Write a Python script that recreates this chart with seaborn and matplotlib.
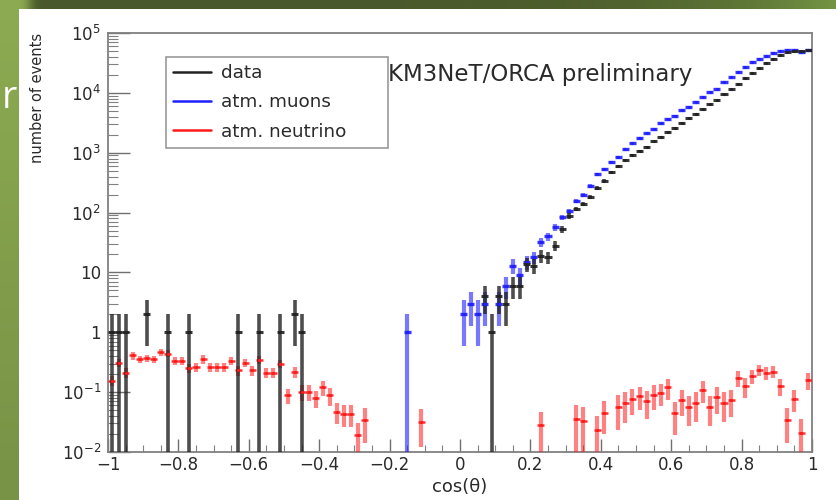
import numpy as np
import pandas as pd
import matplotlib
matplotlib.use("Agg")
import matplotlib.pyplot as plt
import seaborn as sns
from matplotlib.patches import Rectangle
from matplotlib.lines import Line2D
from matplotlib.ticker import FixedLocator, FixedFormatter, MultipleLocator, LogLocator, NullFormatter

# ---------------- data (100 bins in cos(theta), -1 .. 1) ----------------
x_range = (-1.0, 1.0)
n_bins = 100

data_counts = [
    1, 1, 1, 0, 0, 2, 0, 0, 1, 0,
    0, 1, 0, 0, 0, 0, 0, 0, 1, 0,
    0, 1, 0, 0, 1, 0, 2, 1, 0, 0,
    0, 0, 0, 0, 0, 0, 0, 0, 0, 0,
    0, 0, 0, 0, 0, 0, 0, 0, 0, 0,
    0, 0, 0, 4, 1, 4, 3, 6, 6, 14,
    13, 19, 18, 28, 53, 89, 115, 140, 180, 257,
    340, 468, 590, 760, 910, 1070, 1260, 1540, 1850, 2260,
    2630, 3180, 3780, 4500, 5300, 6400, 7600, 9400, 11500, 14000,
    17500, 21500, 26000, 31000, 37000, 43000, 48000, 51000, 50000, 53000,
]

muon_counts = [
    0, 0, 0, 0, 0, 0, 0, 0, 0, 0,
    0, 0, 0, 0, 0, 0, 0, 0, 0, 0,
    0, 0, 0, 0, 0, 0, 0, 0, 0, 0,
    0, 0, 0, 0, 0, 0, 0, 0, 0, 0,
    0, 0, 1, 0, 0, 0, 0, 0, 0, 0,
    2, 3, 2, 3, 0, 3, 6, 13, 9, 15,
    18, 32, 40, 57, 83, 105, 155, 200, 280, 440,
    530, 690, 860, 1140, 1430, 1760, 2130, 2480, 3090, 3640,
    4140, 5100, 5900, 7160, 8500, 10300, 11700, 15000, 18300, 22100,
    26800, 32500, 36900, 41800, 46400, 50700, 52600, 52600, 49000, 52600,
]

nu_rate = [
    0.155, 0.31, 0.21, 0.41, 0.355, 0.365, 0.355, 0.46, 0.44, 0.33,
    0.33, 0.25, 0.26, 0.355, 0.264, 0.26, 0.26, 0.33, 0.23, 0.31,
    0.23, 0.35, 0.21, 0.21, 0.30, 0.089, 0.22, 0.10, 0.10, 0.079,
    0.12, 0.089, 0.047, 0.043, 0.043, 0.019, 0.034, 0, 0, 0,
    0, 0, 0, 0, 0.032, 0, 0, 0, 0, 0,
    0, 0, 0, 0, 0, 0, 0, 0, 0, 0,
    0, 0.028, 0, 0, 0, 0, 0.035, 0.033, 0, 0.023,
    0.045, 0, 0.056, 0.065, 0.076, 0.085, 0.070, 0.091, 0.098, 0.12,
    0.044, 0.075, 0.057, 0.067, 0.11, 0.057, 0.083, 0.067, 0.073, 0.172,
    0.125, 0.185, 0.235, 0.21, 0.22, 0.127, 0.034, 0.077, 0.021, 0.158,
]

nu_err = [
    0.03, 0.05, 0.04, 0.06, 0.05, 0.05, 0.05, 0.06, 0.06, 0.05,
    0.05, 0.045, 0.045, 0.055, 0.045, 0.045, 0.045, 0.05, 0.045, 0.05,
    0.045, 0.05, 0.04, 0.04, 0.05, 0.025, 0.045, 0.03, 0.03, 0.025,
    0.035, 0.03, 0.018, 0.017, 0.017, 0.012, 0.02, 0, 0, 0,
    0, 0, 0, 0, 0.02, 0, 0, 0, 0, 0,
    0, 0, 0, 0, 0, 0, 0, 0, 0, 0,
    0, 0.018, 0, 0, 0, 0, 0.025, 0.024, 0, 0.017,
    0.025, 0, 0.033, 0.035, 0.035, 0.035, 0.035, 0.04, 0.04, 0.045,
    0.025, 0.035, 0.03, 0.035, 0.045, 0.03, 0.04, 0.035, 0.035, 0.05,
    0.045, 0.05, 0.05, 0.05, 0.05, 0.04, 0.02, 0.03, 0.015, 0.05,
]

series_labels = ["data", "atm. muons", "atm. neutrino"]
series_colors = ["#222222", "#1f1fff", "#ff1a1a"]
annotation = "KM3NeT/ORCA preliminary"
slide_fragment = "r"
x_title = "cos(θ)"
y_title = "number of events"
x_tick_values = [-1.0, -0.8, -0.6, -0.4, -0.2, 0.0, 0.2, 0.4, 0.6, 0.8, 1.0]
x_tick_labels = ["−1", "−0.8", "−0.6", "−0.4", "−0.2", "0", "0.2", "0.4", "0.6", "0.8", "1"]
y_tick_values = [1e-2, 1e-1, 1, 10, 1e2, 1e3, 1e4, 1e5]
y_tick_labels = [r"$10^{-2}$", r"$10^{-1}$", "1", "10", r"$10^{2}$", r"$10^{3}$", r"$10^{4}$", r"$10^{5}$"]

# ---------------- table ----------------
edges = np.linspace(x_range[0], x_range[1], n_bins + 1)
centers = 0.5 * (edges[:-1] + edges[1:])
half_width = 0.5 * (edges[1] - edges[0])
df = pd.DataFrame({
    "cos": centers,
    "data": np.array(data_counts, float),
    "muons": np.array(muon_counts, float),
    "nu": np.array(nu_rate, float),
    "nu_err": np.array(nu_err, float),
})

sns.set_theme(style="white")
plt.rcParams["font.family"] = ["DejaVu Sans"]
plt.rcParams["mathtext.fontset"] = "dejavusans"
plt.rcParams["axes.unicode_minus"] = True

W, H = 836, 500
fig = plt.figure(figsize=(W / 100, H / 100), dpi=100)
fig.patch.set_facecolor("#53682e")

# slide background: left green strip + white panel
bg = fig.add_axes([0, 0, 1, 1], zorder=-10)
bg.set_axis_off()
grad = np.zeros((50, 84, 3))
t = np.linspace(0, 1, 84)[None, :]
v = np.linspace(0, 1, 50)[:, None]
top = np.array([0.29, 0.35, 0.17])
right = np.array([0.45, 0.58, 0.26])
left = np.array([0.55, 0.67, 0.32])
grad[:] = top * (1 - t[..., None] ** 6) + right * (t[..., None] ** 6)
grad[:, :3] = left * (1 - 0.3 * v[..., None]) + top * 0.3 * v[..., None]
bg.imshow(grad, extent=[0, 1, 0, 1], aspect="auto", interpolation="bicubic")
bg.add_patch(Rectangle((19 / W, 0), 1 - 19 / W, (H - 9) / H, transform=bg.transAxes,
                       facecolor="white", edgecolor="none"))
bg.set_xlim(0, 1)
bg.set_ylim(0, 1)
fig.text(1.5 / W, (H - 108) / H, slide_fragment, color="white", fontsize=27, family="Open Sans",
         ha="left", va="baseline")

ax = fig.add_axes([108 / W, (H - 452) / H, 704 / W, 419 / H])
ax.set_facecolor("white")
ax.set_yscale("log")
ax.set_xlim(*x_range)
ax.set_ylim(1e-2, 1e5)


def poisson_err(y):
    e = np.sqrt(y)
    lo = np.where(y - e > 0, e, y - 1e-4)
    return lo, e


def draw_hist(sub, ycol, lo, hi, color, vlw, valpha, hlw, z):
    ax.errorbar(sub["cos"], sub[ycol], yerr=[lo, hi], fmt="none", ecolor=color,
                elinewidth=vlw, alpha=valpha, capsize=0, zorder=z)
    ax.errorbar(sub["cos"], sub[ycol], xerr=half_width, fmt="none", ecolor=color,
                elinewidth=hlw, alpha=0.9, capsize=0, zorder=z + 0.1)


# neutrinos (red)
nu = df[df["nu"] > 0]
nlo = np.minimum(nu["nu_err"].values, nu["nu"].values - 1e-4)
draw_hist(nu, "nu", nlo, nu["nu_err"].values, series_colors[2], 3.0, 0.55, 1.8, 3)

# muons (blue)
mu = df[df["muons"] > 0]
mlo, mhi = poisson_err(mu["muons"].values)
draw_hist(mu, "muons", mlo, mhi, series_colors[1], 3.0, 0.6, 2.4, 4)

# data (black)
da = df[df["data"] > 0]
dlo, dhi = poisson_err(da["data"].values)
draw_hist(da, "data", dlo, dhi, series_colors[0], 2.6, 0.8, 2.2, 5)

for sub, col, c, z in [(nu, "nu", series_colors[2], 6), (mu, "muons", series_colors[1], 6),
                       (da, "data", series_colors[0], 7)]:
    sns.scatterplot(data=sub, x="cos", y=col, ax=ax, color=c, s=5, marker="o",
                    linewidth=0, zorder=z, legend=False)

# axes styling (ROOT look)
for s in ax.spines.values():
    s.set_color("#808080")
    s.set_linewidth(1.3)
ax.xaxis.set_major_locator(FixedLocator(x_tick_values))
ax.xaxis.set_major_formatter(FixedFormatter(x_tick_labels))
ax.xaxis.set_minor_locator(MultipleLocator(0.05))
ax.yaxis.set_major_locator(FixedLocator(y_tick_values))
ax.yaxis.set_major_formatter(FixedFormatter(y_tick_labels))
ax.yaxis.set_minor_locator(LogLocator(base=10, subs=np.arange(2, 10), numticks=30))
ax.yaxis.set_minor_formatter(NullFormatter())
ax.tick_params(axis="y", which="major", direction="in", length=16, width=1.0, color="#707070",
               pad=5, labelsize=12, labelcolor="#2a2a2a", left=True, right=False)
ax.tick_params(axis="y", which="minor", direction="in", length=7.5, width=0.8, color="#808080",
               left=True, right=False)
ax.tick_params(axis="x", which="major", direction="in", length=9.5, width=1.0, color="#707070",
               pad=3, labelsize=12, labelcolor="#2a2a2a", bottom=True, top=False)
ax.tick_params(axis="x", which="minor", direction="in", length=5, width=0.8, color="#808080",
               bottom=True, top=False)
ax.set_xlabel(x_title, fontsize=13, color="#2a2a2a", labelpad=3)
ax.set_ylabel(y_title, fontsize=10.5, color="#2a2a2a", loc="top")
ax.yaxis.set_label_coords(-0.0895, 1.0)

ax.text((388 - 108) / 704, (452 - 81) / 419, annotation, transform=ax.transAxes,
        fontsize=16.5, color="#2a2a2a", ha="left", va="baseline")

handles = [Line2D([0], [0], color=c, lw=1.8) for c in series_colors]
leg = ax.legend(handles, series_labels, loc="upper left",
                bbox_to_anchor=((166 - 108) / 704, (452 - 157) / 419, 222 / 704, 100 / 419),
                mode="expand", fontsize=13.2, frameon=True, fancybox=False,
                handlelength=2.1, handletextpad=0.5, labelspacing=0.62, borderpad=0.38,
                borderaxespad=0)
leg.get_frame().set_edgecolor("#808080")
leg.get_frame().set_linewidth(1.2)
for tx in leg.get_texts():
    tx.set_color("#2a2a2a")

fig.savefig("out.png", dpi=100, facecolor=fig.get_facecolor())
